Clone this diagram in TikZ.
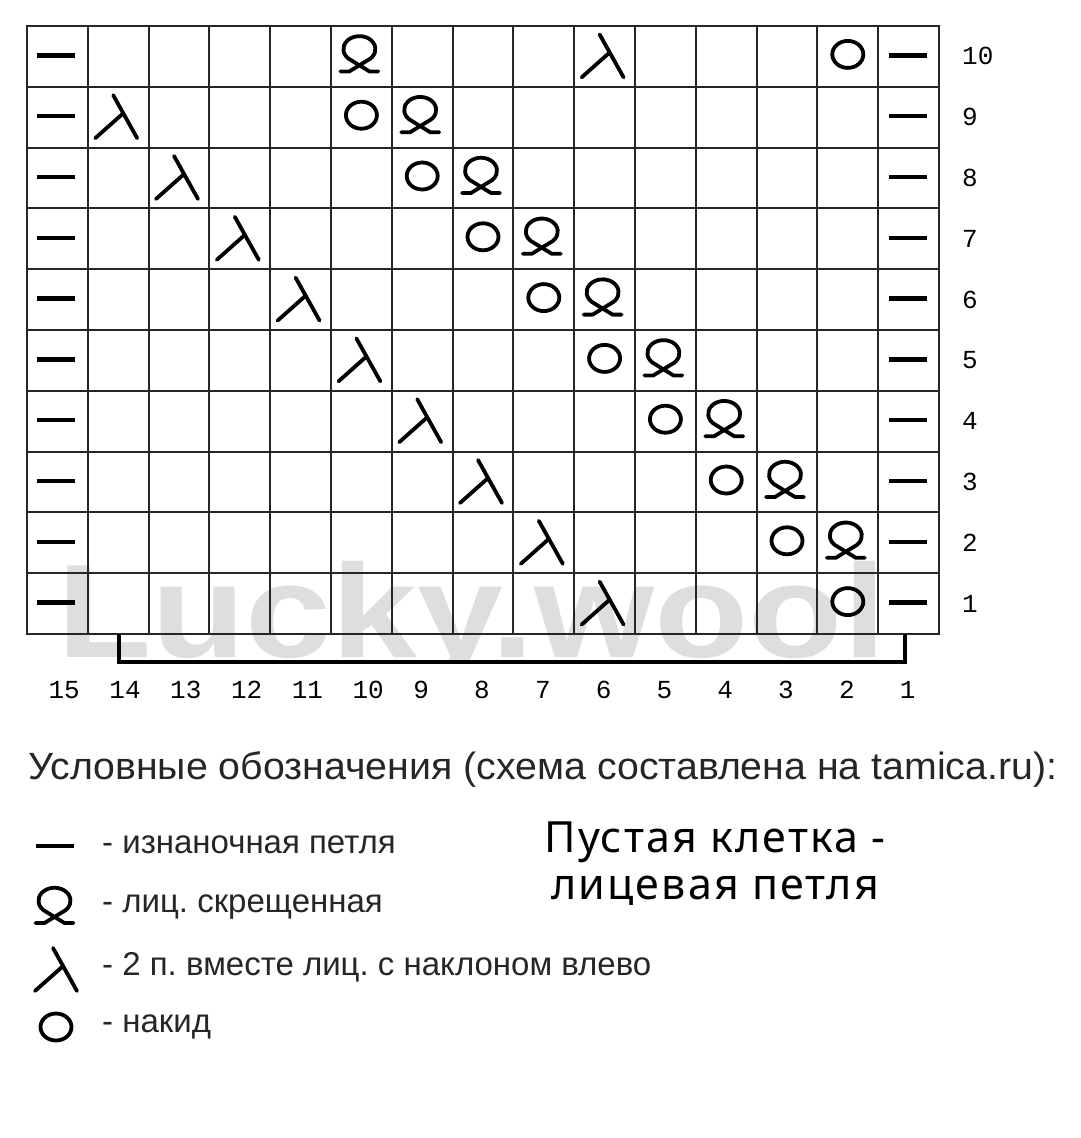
\documentclass[tikz,border=0pt]{standalone}
\usepackage{fontspec}
\setmainfont{Liberation Sans}
\newfontfamily\numfont{Liberation Mono}
\newfontfamily\legfont{Liberation Sans}
\newfontfamily\titlefont[FakeStretch=1.034]{Liberation Sans}
\newfontfamily\notefont[LetterSpace=5]{Noto Sans}
\usetikzlibrary{positioning}
\definecolor{wmgray}{RGB}{222,222,222}
\frenchspacing

% knitting chart symbols, drawn round a named point
\newcommand{\purl}[1]{\draw[purlline, shift={(#1)}] (-20,-1) -- (18,-1);}
\newcommand{\ktbl}[1]{\draw[sym, shift={(#1)}] (-21,15) -- (-12,15) -- (6,4)
  arc[start angle=60, end angle=-240, x radius=16, y radius=13] -- (8,15) -- (17,15);}
\newcommand{\ktog}[1]{\draw[sym, shift={(#1)}] (-5,-22) -- (19,21) (-23,21) -- (4,-3);}
\newcommand{\yo}[1]{\draw[sym, shift={(#1)}] (0,-2) ellipse [x radius=15.5, y radius=13.5];}

\begin{document}
\begin{tikzpicture}[x=1pt, y=-1pt,
    sym/.style={line width=3.8pt, line cap=round, line join=round},
    purlline/.style={line width=4.5pt},
    gridline/.style={line width=2pt, black!85},
    bracket/.style={line width=3.3pt},
    numlabel/.style={font=\numfont\fontsize{26}{26}\selectfont, anchor=west, inner sep=0pt},
    legtext/.style={font=\legfont\fontsize{33}{33}\selectfont, anchor=west, inner sep=0pt, black!85}]
  \useasboundingbox (0,0) rectangle (1080,1138);
  % watermark (cut off at the foot of the strip)
  \begin{scope}
    \clip (0,540) rectangle (1080,661);
    \node[anchor=base west, inner sep=0pt, text depth=0pt, text=wmgray,
      font=\bfseries\fontsize{133}{133}\selectfont,
      xscale=1.16, transform shape] (wm) at (57,657) {Lucky.wool};
  \end{scope}
  % cells
  \foreach \j in {1,...,15}
    \foreach \r in {1,...,10}
      \coordinate (c-\j-\r) at ({27+60.8*(\j-0.5)}, {26+60.8*(10.5-\r)});
  \foreach \j in {0,...,15}
    \draw[gridline] ({27+60.8*\j},26) -- ({27+60.8*\j},634);
  \foreach \r in {0,...,10}
    \draw[gridline] (26,{26+60.8*\r}) -- (940,{26+60.8*\r});
  % stitches
  \foreach \r in {1,...,10} {
    \purl{c-1-\r}
    \purl{c-15-\r}
  }
  \foreach \r in {2,...,9} {
    \pgfmathtruncatemacro{\a}{11-\r}
    \pgfmathtruncatemacro{\b}{15-\r}
    \pgfmathtruncatemacro{\c}{16-\r}
    \ktog{c-\a-\r}
    \yo{c-\b-\r}
    \ktbl{c-\c-\r}
  }
  \ktbl{c-6-10} \ktog{c-10-10} \yo{c-14-10}
  \ktog{c-10-1} \yo{c-14-1}
  % numbers
  \foreach \r in {1,...,10}
    \node[numlabel] (row-\r) at (962,{26+60.8*(10.5-\r)}) {\r};
  \foreach \j in {1,...,15} {
    \pgfmathtruncatemacro{\n}{16-\j}
    \node[numlabel] (col-\n) at ({27+60.8*(\j-0.5)-9},690) {\n};
  }
  % repeat bracket
  \coordinate (bl) at (119,634);
  \coordinate (br) at (905,634);
  \draw[bracket] (bl) -- ++(0,28) -| (br);
  % legend
  \node[anchor=base west, inner sep=0pt, text=black!85, font=\titlefont\fontsize{38}{38}\selectfont]
    (title) at (28,779) {Условные обозначения (схема составлена на tamica.ru):};
  \coordinate (k1) at (56,847);
  \coordinate (k2) at (56.5,908);
  \coordinate (k3) at (58,970);
  \coordinate (k4) at (56,1029);
  \purl{k1} \ktbl{k2} \ktog{k3} \yo{k4}
  \node[legtext] (t1) at (102,845) {- изнаночная петля};
  \node[legtext] (t2) at (102,907) {- лиц. скрещенная};
  \node[legtext] (t3) at (102,967) {- 2 п. вместе лиц. с наклоном влево};
  \node[legtext] (t4) at (102,1027) {- накид};
  \node[align=center, inner sep=0pt, font=\notefont\fontsize{43}{47}\selectfont] (note)
    at (715,864) {Пустая клетка -\\лицевая петля};
\end{tikzpicture}
\end{document}
